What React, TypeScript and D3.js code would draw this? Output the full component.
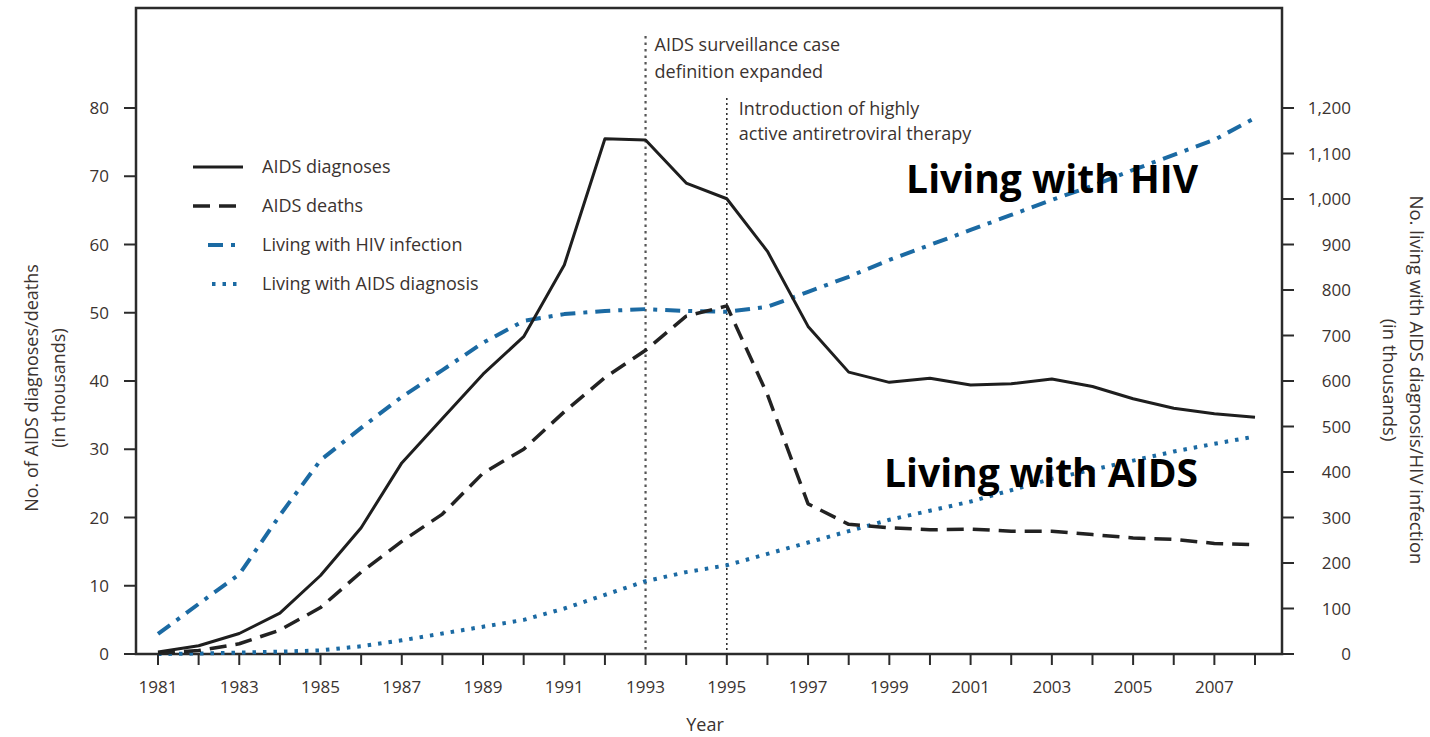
import React from 'react';
import * as d3 from 'd3';

const years = d3.range(1981, 2009);

// thousands, left axis
const aidsDiagnoses = [0.3, 1.2, 3, 6, 11.5, 18.5, 28, 34.5, 41, 46.5, 57, 75.5, 75.3, 69, 66.7, 59, 48, 41.3, 39.8, 40.4, 39.4, 39.6, 40.3, 39.2, 37.4, 36, 35.2, 34.7];
const aidsDeaths = [0.1, 0.5, 1.5, 3.5, 6.8, 12, 16.5, 20.5, 26.5, 30, 35.5, 40.5, 44.5, 49.5, 51, 38, 22, 19, 18.5, 18.2, 18.3, 18, 18, 17.5, 17, 16.8, 16.2, 16];
// thousands, right axis
const livingHIV = [44, 110, 175, 305, 426, 497, 565, 624, 684, 732, 747, 754, 758, 754, 752, 763, 796, 829, 866, 899, 932, 965, 998, 1029, 1064, 1097, 1130, 1178];
const livingAIDS = [0, 1, 3, 5, 8, 17, 30, 45, 60, 75, 100, 130, 160, 180, 195, 220, 245, 270, 295, 315, 335, 360, 385, 405, 425, 445, 462, 478];

const leftTicks = [0, 10, 20, 30, 40, 50, 60, 70, 80];
const rightTicks = [0, 100, 200, 300, 400, 500, 600, 700, 800, 900, 1000, 1100, 1200];
const yearLabels = d3.range(1981, 2009, 2);

const legendItems = [
  { label: 'AIDS diagnoses', key: 'diag' },
  { label: 'AIDS deaths', key: 'death' },
  { label: 'Living with HIV infection', key: 'hiv' },
  { label: 'Living with AIDS diagnosis', key: 'aids' },
];

const BLUE = '#1b6aa3';
const INK = '#2b2b2b';
const TXT = '#3b3330';
const FONT = "'Open Sans', 'DejaVu Sans', sans-serif";

const styles: Record<string, { stroke: string; width: number; dash?: string }> = {
  diag: { stroke: '#1e1e1e', width: 3 },
  death: { stroke: '#222', width: 3.5, dash: '17,9' },
  hiv: { stroke: BLUE, width: 4, dash: '15,8,4,8' },
  aids: { stroke: BLUE, width: 4, dash: '3.5,7' },
};

export default function App() {
  const left = 136, right = 1282, top = 8, bottom = 654;
  const x = d3.scaleLinear().domain([1981, 2008]).range([158, 1255]);
  const yL = d3.scaleLinear().domain([0, 80]).range([bottom, 108]);
  const yR = d3.scaleLinear().domain([0, 1200]).range([bottom, 108]);

  const lineL = d3.line<number>().x((_, i) => x(years[i])).y(d => yL(d));
  const lineR = d3.line<number>().x((_, i) => x(years[i])).y(d => yR(d));

  const series = [
    { key: 'aids', d: lineR(livingAIDS) },
    { key: 'hiv', d: lineR(livingHIV) },
    { key: 'death', d: lineL(aidsDeaths) },
    { key: 'diag', d: lineL(aidsDiagnoses) },
  ];

  return (
    <svg width={1430} height={737} style={{ position: 'absolute', left: 0, top: 0, background: '#fff' }} fontFamily={FONT}>
      {/* frame */}
      <rect x={left} y={top} width={right - left} height={bottom - top} fill="none" stroke={INK} strokeWidth={2.5} />

      {/* event markers */}
      <line x1={x(1993)} x2={x(1993)} y1={36} y2={bottom} stroke="#555" strokeWidth={2.2} strokeDasharray="2.5,4" />
      <line x1={x(1995)} x2={x(1995)} y1={98} y2={bottom} stroke="#222" strokeWidth={1.5} strokeDasharray="2,3" />
      <g fontSize={18} fill={TXT}>
        <text x={x(1993) + 9} y={51}>AIDS surveillance case</text>
        <text x={x(1993) + 9} y={78}>definition expanded</text>
        <text x={x(1995) + 12} y={115}>Introduction of highly</text>
        <text x={x(1995) + 12} y={140}>active antiretroviral therapy</text>
      </g>

      {/* series */}
      {series.map(s => {
        const st = styles[s.key];
        return <path key={s.key} d={s.d || ''} fill="none" stroke={st.stroke} strokeWidth={st.width} strokeDasharray={st.dash} strokeLinejoin="round" />;
      })}

      {/* x axis */}
      {years.map(yr => (
        <line key={yr} x1={x(yr)} x2={x(yr)} y1={bottom} y2={bottom + 11} stroke={INK} strokeWidth={2} />
      ))}
      {yearLabels.map(yr => (
        <text key={yr} x={x(yr)} y={bottom + 39} textAnchor="middle" fontSize={17} fill={TXT}>{yr}</text>
      ))}
      <text x={705} y={731} textAnchor="middle" fontSize={18} fill={TXT}>Year</text>

      {/* left axis */}
      {leftTicks.map(t => (
        <g key={t}>
          <line x1={left - 12} x2={left} y1={yL(t)} y2={yL(t)} stroke={INK} strokeWidth={2} />
          <text x={109} y={yL(t) + 6} textAnchor="end" fontSize={17} fill={TXT}>{t}</text>
        </g>
      ))}
      <text transform="translate(38,388) rotate(-90)" textAnchor="middle" fontSize={18} fill={TXT}>No. of AIDS diagnoses/deaths</text>
      <text transform="translate(65,388) rotate(-90)" textAnchor="middle" fontSize={18} fill={TXT}>(in thousands)</text>

      {/* right axis */}
      {rightTicks.map(t => (
        <g key={t}>
          <line x1={right} x2={right + 12} y1={yR(t)} y2={yR(t)} stroke={INK} strokeWidth={2} />
          <text x={1351} y={yR(t) + 6} textAnchor="end" fontSize={17} fill={TXT}>{d3.format(',')(t)}</text>
        </g>
      ))}
      <text transform="translate(1410,380) rotate(90)" textAnchor="middle" fontSize={18.5} fill={TXT}>No. living with AIDS diagnosis/HIV infection</text>
      <text transform="translate(1383,380) rotate(90)" textAnchor="middle" fontSize={18.5} fill={TXT}>(in thousands)</text>

      {/* legend */}
      {legendItems.map((it, i) => {
        const st = styles[it.key];
        const ly = 167 + i * 39;
        const x1 = it.key === 'hiv' ? 208 : it.key === 'aids' ? 212 : 193;
        return (
          <g key={it.key}>
            <line x1={x1} x2={243} y1={ly} y2={ly} stroke={st.stroke} strokeWidth={st.width} strokeDasharray={st.dash} />
            <text x={262} y={ly + 6} fontSize={18} fill={TXT}>{it.label}</text>
          </g>
        );
      })}

      {/* big callouts */}
      <text x={1198} y={193} textAnchor="end" fontSize={39} fontWeight="bold" fill="#000">Living with HIV</text>
      <text x={1198} y={487} textAnchor="end" fontSize={39} fontWeight="bold" fill="#000">Living with AIDS</text>
    </svg>
  );
}
